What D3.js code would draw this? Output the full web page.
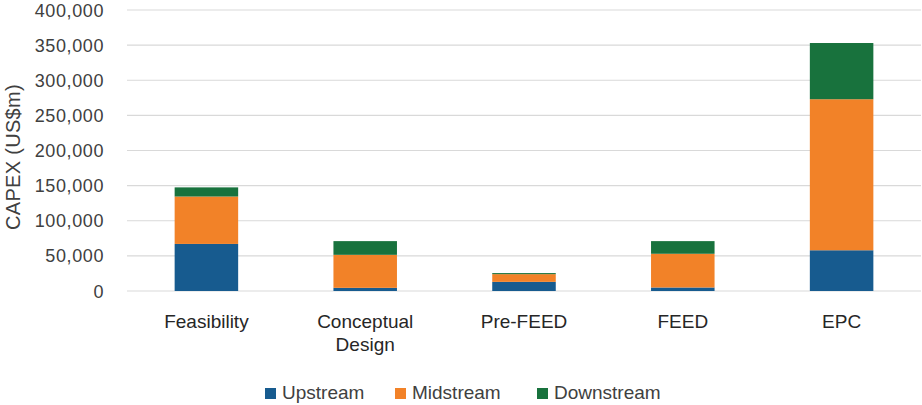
<!DOCTYPE html>
<html>
<head>
<meta charset="utf-8">
<script src="https://cdn.jsdelivr.net/npm/d3@7"></script>
<style>
  body { margin: 0; background: #fff; }
  svg { display: block; }
</style>
</head>
<body>
<svg id="chart"></svg>
<script>
// chart data
var categories = ["Feasibility", "Conceptual\nDesign", "Pre-FEED", "FEED", "EPC"];
var upstream   = [67000, 4500, 13000, 5000, 58000];
var midstream  = [67500, 47000, 11000, 48000, 215000];
var downstream = [13000, 19500, 1500, 18000, 80000];
var seriesNames = ["Upstream", "Midstream", "Downstream"];
var yTicks = [0, 50000, 100000, 150000, 200000, 250000, 300000, 350000, 400000];

var colors = ["#175b8f", "#f28228", "#18723d"];

var width = 922, height = 405;
var margin = { top: 10, right: 1, bottom: 114, left: 127 },
    w = width - margin.left - margin.right,
    h = height - margin.top - margin.bottom;

var svg = d3.select("#chart").attr("width", width).attr("height", height);
var g = svg.append("g").attr("transform", `translate(${margin.left}, ${margin.top})`);

var rows = categories.map(function (c, i) {
    return { cat: c, Upstream: upstream[i], Midstream: midstream[i], Downstream: downstream[i] };
});
var stacked = d3.stack().keys(seriesNames)(rows);

var x = d3.scaleBand().domain(categories).range([0, w]).paddingInner(0.6).paddingOuter(0.3);
var y = d3.scaleLinear().domain([0, 400000]).range([h, 0]);

// gridlines
g.selectAll(".grid").data(yTicks).join("line").attr("class", "grid")
    .attr("x1", 0).attr("x2", w)
    .attr("y1", d => y(d)).attr("y2", d => y(d))
    .attr("stroke", "#d9d9d9").attr("stroke-width", 1.2);

// y tick labels
g.selectAll(".ytick").data(yTicks).join("text").attr("class", "ytick")
    .attr("x", -23).attr("y", d => y(d) + 6.5)
    .attr("text-anchor", "end")
    .style("font-family", "Liberation Sans, Arial, sans-serif")
    .style("font-size", "18px")
    .style("letter-spacing", "0.6px")
    .style("fill", "#404040")
    .text(d => d3.format(",")(d));

// bars
g.selectAll(".series").data(stacked).join("g").attr("class", "series")
    .attr("fill", (d, i) => colors[i])
    .selectAll("rect").data(d => d).join("rect")
    .attr("x", d => x(d.data.cat))
    .attr("width", x.bandwidth())
    .attr("y", d => y(d[1]))
    .attr("height", d => y(d[0]) - y(d[1]));

// category labels
var catText = g.selectAll(".xlabel").data(categories).join("text").attr("class", "xlabel")
    .attr("text-anchor", "middle")
    .attr("transform", d => `translate(${x(d) + x.bandwidth() / 2}, ${h + 37})`)
    .style("font-family", "Liberation Sans, Arial, sans-serif")
    .style("font-size", "19px")
    .style("fill", "#262626");
catText.selectAll("tspan").data(d => d.split("\n")).join("tspan")
    .attr("x", 0).attr("dy", (d, i) => i === 0 ? 0 : 23)
    .text(d => d);

// y axis title
svg.append("text")
    .attr("text-anchor", "middle")
    .attr("transform", "translate(20, 157) rotate(-90)")
    .style("font-family", "Liberation Sans, Arial, sans-serif")
    .style("font-size", "20px")
    .style("letter-spacing", "0.3px")
    .style("fill", "#404040")
    .text("CAPEX (US$m)");

// legend
var legendX = [265, 395, 537];
var legend = svg.selectAll(".legend").data(seriesNames).join("g").attr("class", "legend")
    .attr("transform", (d, i) => `translate(${legendX[i]}, 388)`);
legend.append("rect").attr("width", 11).attr("height", 11).attr("fill", (d, i) => colors[i]);
legend.append("text")
    .attr("x", 17).attr("y", 11)
    .style("font-family", "Liberation Sans, Arial, sans-serif")
    .style("font-size", "19px")
    .style("fill", "#404040")
    .text(d => d);
</script>
</body>
</html>
